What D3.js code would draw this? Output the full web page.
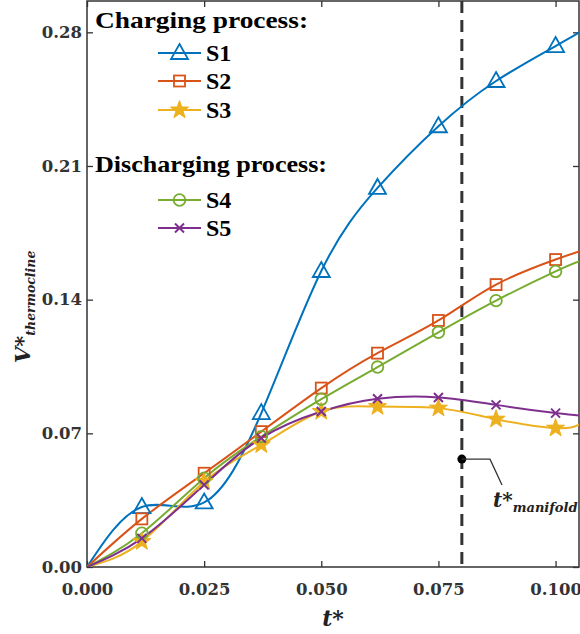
<!DOCTYPE html>
<html>
<head>
<meta charset="utf-8">
<script src="https://cdn.jsdelivr.net/npm/d3@7"></script>
<style>
  body { margin: 0; background: #fff; }
  svg { display: block; }
</style>
</head>
<body>
<div id="chart"></div>
<script>
// t* values where markers sit, plus start and right edge
const tVals = [0, 0.0117, 0.025, 0.0372, 0.05, 0.062, 0.075, 0.0873, 0.1, 0.105];

// V*thermocline for each case
const s1 = [0, 0.0314, 0.0338, 0.0806, 0.1550, 0.1985, 0.2308, 0.2545, 0.2728, 0.2798];
const s2 = [0, 0.0252, 0.0491, 0.0709, 0.0937, 0.1120, 0.1291, 0.1479, 0.1610, 0.1653];
const s3 = [0, 0.0133, 0.0447, 0.0640, 0.0814, 0.0840, 0.0832, 0.0774, 0.0727, 0.0745];
const s4 = [0, 0.0177, 0.0465, 0.0683, 0.0879, 0.1047, 0.1229, 0.1395, 0.1548, 0.1600];
const s5 = [0, 0.0150, 0.0430, 0.0675, 0.0814, 0.0881, 0.0888, 0.0849, 0.0806, 0.0793];

const seriesNames = ["S1", "S2", "S3", "S4", "S5"];
const xTicks = [0, 0.025, 0.05, 0.075, 0.1];
const yTicks = [0, 0.07, 0.14, 0.21, 0.28];
const tManifold = 0.08;

const W = 580, H = 634;
const mLeft = 87, mRight = 579, mTop = 1, mBottom = 567;

const svg = d3.select("#chart").append("svg")
  .attr("width", W).attr("height", H);

const x = d3.scaleLinear().domain([0, 0.105]).range([mLeft, mRight]);
const y = d3.scaleLinear().domain([0, 0.2964]).range([mBottom, mTop]);

const colors = ["#0072BD", "#D95319", "#EDB120", "#77AC30", "#7E2F8E"];
const markers = ["tri", "square", "star", "circle", "cross"];
const allSeries = [s1, s2, s3, s4, s5];

svg.append("clipPath").attr("id", "clip")
  .append("rect").attr("x", mLeft).attr("y", mTop)
  .attr("width", mRight - mLeft).attr("height", mBottom - mTop);

// axes, ticks pointing in
const tickFont = "DejaVu Serif";
function styleAxis(g, labels) {
  g.select(".domain").remove();
  g.selectAll(".tick line").attr("stroke", "#333").attr("stroke-width", 1.3);
  if (!labels) { g.selectAll("text").remove(); return; }
  g.selectAll("text")
    .attr("fill", "#333")
    .style("font-family", tickFont).style("font-weight", "bold")
    .style("font-size", "16.5px");
}
svg.append("g").attr("transform", `translate(0,${mBottom})`)
  .call(d3.axisBottom(x).tickValues(xTicks).tickFormat(d3.format(".3f"))
    .tickSizeInner(-6).tickSizeOuter(0).tickPadding(16))
  .call(g => styleAxis(g, true));
svg.append("g").attr("transform", `translate(${mLeft},0)`)
  .call(d3.axisLeft(y).tickValues(yTicks).tickFormat(d3.format(".2f"))
    .tickSizeInner(-6).tickSizeOuter(0).tickPadding(5))
  .call(g => styleAxis(g, true));
svg.append("g").attr("transform", `translate(0,${mTop})`)
  .call(d3.axisTop(x).tickValues(xTicks).tickSizeInner(-6).tickSizeOuter(0))
  .call(g => styleAxis(g, false));
svg.append("g").attr("transform", `translate(${mRight},0)`)
  .call(d3.axisRight(y).tickValues(yTicks).tickSizeInner(-6).tickSizeOuter(0))
  .call(g => styleAxis(g, false));

svg.append("rect")
  .attr("x", mLeft).attr("y", mTop)
  .attr("width", mRight - mLeft).attr("height", mBottom - mTop)
  .attr("fill", "none").attr("stroke", "#333").attr("stroke-width", 1.5);

// dashed t*manifold line
svg.append("line")
  .attr("x1", x(tManifold)).attr("x2", x(tManifold))
  .attr("y1", mTop).attr("y2", mBottom)
  .attr("stroke", "#333").attr("stroke-width", 3)
  .attr("stroke-dasharray", "12,7");

// marker drawing
function drawMarker(g, type, color) {
  if (type === "tri") {
    g.append("path").attr("d", "M0,-9L8.5,6L-8.5,6Z")
      .attr("fill", "none").attr("stroke", color).attr("stroke-width", 1.8);
  } else if (type === "square") {
    g.append("rect").attr("x", -5.5).attr("y", -5.5).attr("width", 11).attr("height", 11)
      .attr("fill", "none").attr("stroke", color).attr("stroke-width", 1.8);
  } else if (type === "circle") {
    g.append("circle").attr("r", 5.8)
      .attr("fill", "none").attr("stroke", color).attr("stroke-width", 1.8);
  } else if (type === "cross") {
    g.append("path").attr("d", "M-4.5,-4.5L4.5,4.5M-4.5,4.5L4.5,-4.5")
      .attr("fill", "none").attr("stroke", color).attr("stroke-width", 2);
  } else if (type === "star") {
    const pts = d3.range(10).map(i => {
      const r = i % 2 === 0 ? 9.5 : 3.8;
      const a = -Math.PI / 2 + i * Math.PI / 5;
      return [r * Math.cos(a), r * Math.sin(a)];
    });
    g.append("path").attr("d", "M" + pts.join("L") + "Z")
      .attr("fill", color).attr("stroke", color).attr("stroke-width", 1)
      .attr("stroke-linejoin", "round");
  }
}

const line = d3.line()
  .x((d, i) => x(tVals[i]))
  .y(d => y(d))
  .curve(d3.curveNatural);

const plot = svg.append("g").attr("clip-path", "url(#clip)");
allSeries.forEach((s, k) => {
  plot.append("path").datum(s)
    .attr("d", line)
    .attr("fill", "none").attr("stroke", colors[k]).attr("stroke-width", 2);
});
allSeries.forEach((s, k) => {
  s.forEach((v, i) => {
    if (i === 0 || i === s.length - 1) return;
    const g = plot.append("g").attr("transform", `translate(${x(tVals[i])},${y(v)})`);
    drawMarker(g, markers[k], colors[k]);
  });
});

// annotation t*manifold
const annY = 0.0565;
svg.append("circle").attr("cx", x(tManifold)).attr("cy", y(annY)).attr("r", 4.5).attr("fill", "#000");
svg.append("path")
  .attr("d", `M${x(tManifold)},${y(annY)}H490L502,485`)
  .attr("fill", "none").attr("stroke", "#333").attr("stroke-width", 1.3);
const ann = svg.append("text").attr("x", 493).attr("y", 507)
  .style("font-family", tickFont).style("font-weight", "bold").style("font-style", "italic")
  .attr("fill", "#222");
ann.append("tspan").style("font-size", "20px").text("t*");
ann.append("tspan").style("font-size", "13px").attr("dy", 5).text("manifold");

// axis labels
svg.append("text").attr("x", 333).attr("y", 626).attr("text-anchor", "middle")
  .style("font-family", tickFont).style("font-weight", "bold").style("font-style", "italic")
  .style("font-size", "22px").attr("fill", "#222").text("t*");

const yl = svg.append("text").attr("transform", "translate(30,363) rotate(-90)")
  .style("font-family", tickFont).style("font-weight", "bold").style("font-style", "italic")
  .attr("fill", "#222");
yl.append("tspan").style("font-size", "21px").text("V*");
yl.append("tspan").style("font-size", "12.5px").attr("dy", 5).text("thermocline");

// legend
const legFont = "Liberation Serif";
svg.append("text").attr("x", 95).attr("y", 28)
  .attr("textLength", 213).attr("lengthAdjust", "spacingAndGlyphs")
  .style("font-family", legFont).style("font-weight", "bold").style("font-size", "23px")
  .attr("fill", "#000").text("Charging process:");
svg.append("text").attr("x", 95).attr("y", 172)
  .attr("textLength", 232).attr("lengthAdjust", "spacingAndGlyphs")
  .style("font-family", legFont).style("font-weight", "bold").style("font-size", "23px")
  .attr("fill", "#000").text("Discharging process:");

const legY = [53, 81, 110, 200, 228];
seriesNames.forEach((name, k) => {
  const g = svg.append("g").attr("transform", `translate(0,${legY[k]})`);
  g.append("line").attr("x1", 158).attr("x2", 201).attr("stroke", colors[k]).attr("stroke-width", 2);
  const m = g.append("g").attr("transform", "translate(179.5,0)");
  drawMarker(m, markers[k], colors[k]);
  g.append("text").attr("x", 206).attr("y", 8)
    .style("font-family", legFont).style("font-weight", "bold").style("font-size", "24px")
    .attr("fill", "#000").text(name);
});
</script>
</body>
</html>
